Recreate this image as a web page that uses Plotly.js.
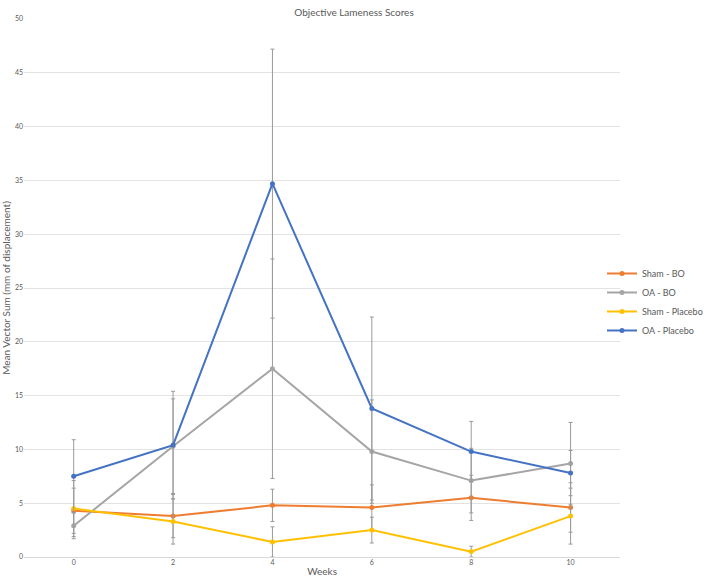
<!DOCTYPE html>
<html>
<head>
<meta charset="utf-8">
<script src="https://cdn.plot.ly/plotly-3.0.1.min.js"></script>
<style>
  html, body { margin: 0; padding: 0; background: #fff; }
  #chart { width: 708px; height: 582px; }
</style>
</head>
<body>
<div id="chart"></div>
<script>
// weeks on the x axis
var weeks = [0, 2, 4, 6, 8, 10];

// series means and error bar sizes
var shamBO = [4.3, 3.8, 4.8, 4.6, 5.5, 4.6];
var shamBOErr = [2.1, 2.0, 1.5, 2.1, 2.1, 2.3];
var oaBO = [2.9, 10.3, 17.5, 9.8, 7.1, 8.7];
var oaBOErr = [1.2, 4.4, 10.2, 4.8, 3.0, 3.8];
var shamPlacebo = [4.5, 3.3, 1.4, 2.5, 0.5, 3.8];
var shamPlaceboErr = [2.6, 2.1, 1.4, 1.2, 0.5, 2.6];
var oaPlacebo = [7.5, 10.4, 34.7, 13.8, 9.8, 7.8];
var oaPlaceboErr = [3.4, 5.0, 12.5, 8.5, 2.8, 2.1];

var names = ['Sham - BO', 'OA - BO', 'Sham - Placebo', 'OA - Placebo'];
var colors = ['#ED7D31', '#A5A5A5', '#FFC000', '#4472C4'];
var values = [shamBO, oaBO, shamPlacebo, oaPlacebo];
var errors = [shamBOErr, oaBOErr, shamPlaceboErr, oaPlaceboErr];

var font = 'Lato, "Open Sans", sans-serif';

var data = names.map(function(name, i) {
  return {
    x: weeks,
    y: values[i],
    name: name,
    type: 'scatter',
    mode: 'lines+markers',
    line: { color: colors[i], width: 2 },
    marker: { color: colors[i], size: 5, symbol: 'circle' },
    error_y: {
      type: 'data',
      array: errors[i],
      visible: true,
      color: '#9A9A9A',
      thickness: 1,
      width: 2
    }
  };
});

// plot area runs to the right edge, the axis only uses the left part of it
// so the legend sits inside and does not push the margins
var layout = {
  width: 708,
  height: 582,
  paper_bgcolor: '#ffffff',
  plot_bgcolor: '#ffffff',
  margin: { l: 24, r: 0, t: 19, b: 25 },
  font: { family: font, color: '#595959' },
  title: {
    text: 'Objective Lameness Scores',
    font: { size: 10, color: '#595959', family: font },
    x: 0.5, xref: 'container',
    y: 0.985, yanchor: 'top', yref: 'container'
  },
  xaxis: {
    domain: [0, 0.8743],
    range: [-1, 11],
    tickvals: weeks,
    ticktext: weeks.map(String),
    tickfont: { size: 7, color: '#595959' },
    showgrid: false,
    zeroline: false,
    showline: false,
    ticks: '',
    title: { text: 'Weeks', font: { size: 10, color: '#595959' }, standoff: 2 },
    automargin: false,
    fixedrange: true
  },
  yaxis: {
    range: [0, 50],
    dtick: 5,
    tickfont: { size: 7, color: '#595959' },
    showgrid: true,
    gridcolor: '#E3E3E3',
    gridwidth: 1,
    zeroline: true,
    zerolinecolor: '#D9D9D9',
    zerolinewidth: 1,
    showline: false,
    ticks: '',
    title: { text: 'Mean Vector Sum (mm of displacement)', font: { size: 10, color: '#595959' }, standoff: 4 },
    automargin: false,
    fixedrange: true
  },
  legend: {
    xref: 'paper', yref: 'paper',
    x: 0.848, xanchor: 'left',
    y: 0.474, yanchor: 'middle',
    font: { size: 9, color: '#595959' },
    itemwidth: 30,
    tracegroupgap: 0,
    bgcolor: 'rgba(0,0,0,0)'
  },
  showlegend: true
};

Plotly.newPlot('chart', data, layout, { displayModeBar: false, staticPlot: true });
</script>
</body>
</html>
